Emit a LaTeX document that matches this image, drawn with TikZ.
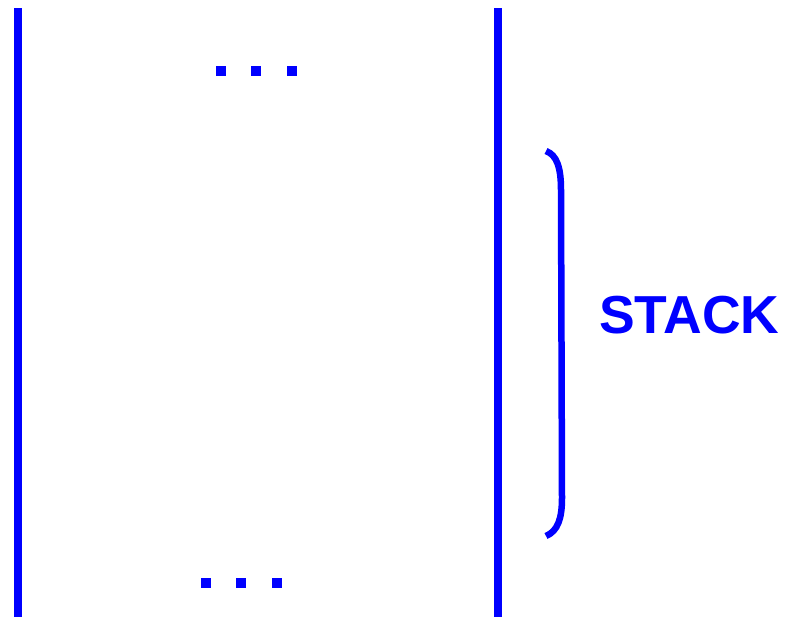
\documentclass[tikz,border=0pt]{standalone}
\usepackage{fontspec}
\setmainfont{Liberation Sans}
\begin{document}
\begin{tikzpicture}[x=1pt,y=-1pt,
  wall/.style={draw=blue,line width=7.5pt},
  dot/.style={fill=blue,inner sep=0pt,minimum size=10pt,draw=none},
  bracestroke/.style={draw=blue,line width=6.5pt},
  label/.style={text=blue,font=\bfseries\fontsize{53.5}{60}\selectfont,inner sep=0pt,anchor=base west}]
\useasboundingbox (0,0) rectangle (792,616);
\coordinate (lt) at (18,8);
\coordinate (lb) at (18,620);
\coordinate (rt) at (498,8);
\coordinate (rb) at (498,620);
\draw[wall] (lt) -- (lb);
\draw[wall] (rt) -- (rb);
\node[dot] (t1) at (221,71) {};
\node[dot] (t2) at (256,71) {};
\node[dot] (t3) at (292,71) {};
\node[dot] (b1) at (206,583) {};
\node[dot] (b2) at (241,583) {};
\node[dot] (b3) at (277,583) {};
\coordinate (bt) at (546,151);
\coordinate (bm1) at (561,190);
\coordinate (bm2) at (562,498);
\coordinate (bb) at (546,536);
\draw[bracestroke] (bt) .. controls (557,155) and (561,168) .. (bm1) -- (bm2) .. controls (562,518) and (558,531) .. (bb);
\node[label] (stack) at (599,333) {STACK};
\end{tikzpicture}
\end{document}
